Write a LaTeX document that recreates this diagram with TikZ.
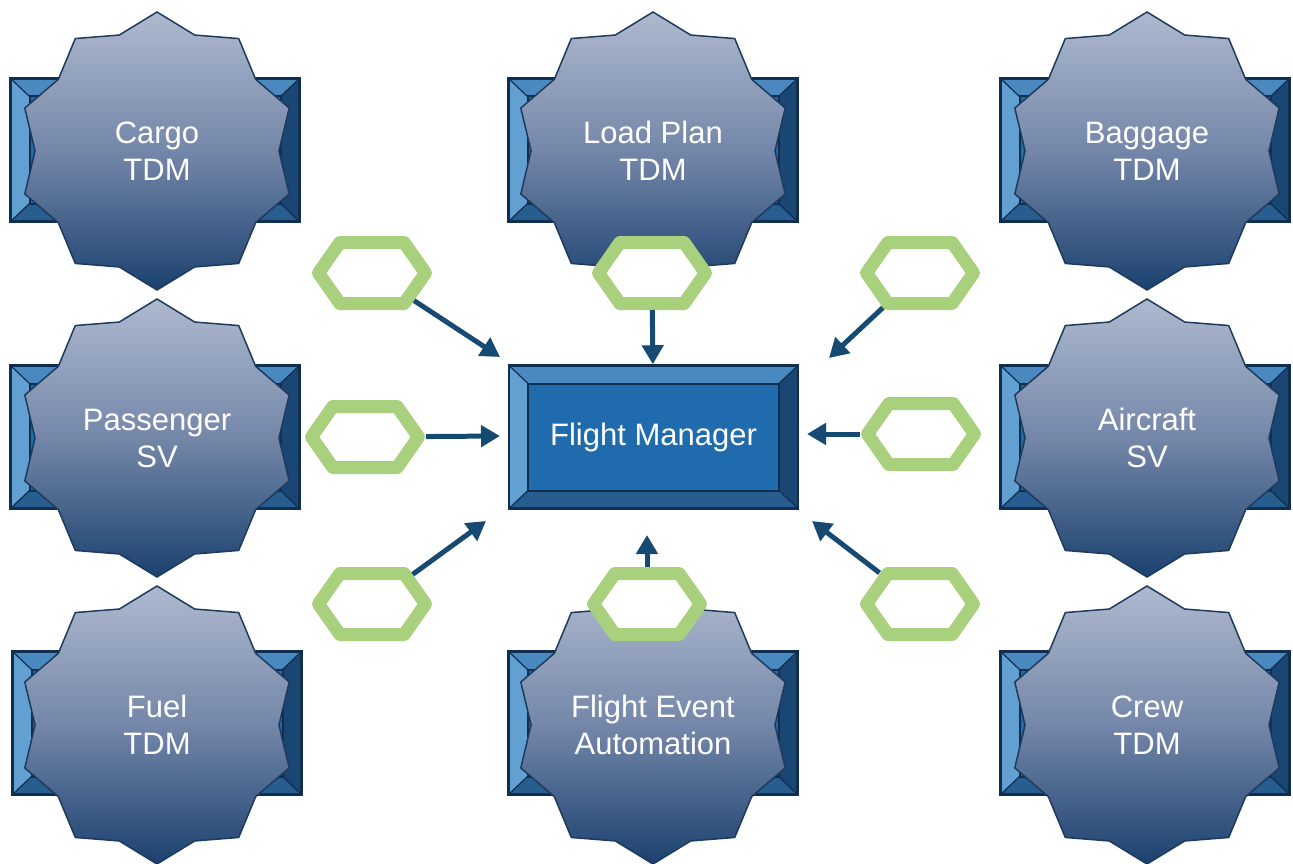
\documentclass[tikz,border=0pt]{standalone}
\usepackage{fontspec}
\setmainfont{Liberation Sans}
\usetikzlibrary{shapes.geometric}
\usetikzlibrary{shapes.symbols}
\usetikzlibrary{arrows.meta}

\definecolor{navy}{HTML}{0F2E50}
\definecolor{face}{HTML}{1F6BAE}
\definecolor{bevtop}{HTML}{4A89C0}
\definecolor{bevleft}{HTML}{62A0D2}
\definecolor{bevright}{HTML}{1A4673}
\definecolor{bevbottom}{HTML}{275D8F}
\definecolor{startop}{HTML}{AEB9CE}
\definecolor{starmid}{HTML}{7487A9}
\definecolor{starbottom}{HTML}{1B416E}
\definecolor{starline}{HTML}{1E3A5C}
\definecolor{portgreen}{HTML}{A9D07C}
\definecolor{flowblue}{HTML}{174A72}

\begin{document}
\begin{tikzpicture}[x=1pt,y=-1pt]
   \tikzset{BevelStyle/.style={draw=navy, line width=2.5pt, fill=face,
      minimum width=289pt, minimum height=143pt, inner sep=0pt, text=white,
      font=\fontsize{31}{37}\selectfont,
      path picture={
         \path (path picture bounding box.north west) coordinate (nw)
               (path picture bounding box.north east) coordinate (ne)
               (path picture bounding box.south west) coordinate (sw)
               (path picture bounding box.south east) coordinate (se);
         \path ([shift={(19pt,-18pt)}]nw) coordinate (inw)
               ([shift={(-19pt,-18pt)}]ne) coordinate (ine)
               ([shift={(19pt,18pt)}]sw) coordinate (isw)
               ([shift={(-19pt,18pt)}]se) coordinate (ise);
         \fill[bevtop] (nw) -- (ne) -- (ine) -- (inw) -- cycle;
         \fill[bevleft] (nw) -- (inw) -- (isw) -- (sw) -- cycle;
         \fill[bevright] (ne) -- (se) -- (ise) -- (ine) -- cycle;
         \fill[bevbottom] (sw) -- (isw) -- (ise) -- (se) -- cycle;
         \draw[navy, line width=2pt] (inw) rectangle (ise);
         \draw[navy, line width=1.2pt] (nw) -- (inw) (ne) -- (ine) (sw) -- (isw) (se) -- (ise);
      }}}
   \tikzset{StarStyle/.style={star, star points=10, star point ratio=1.14,
      minimum size=278pt, inner sep=0pt, draw=starline, line width=1.5pt,
      top color=startop, bottom color=starbottom, middle color=starmid,
      text=white, align=center, font=\fontsize{31}{37}\selectfont}}
   \tikzset{PortStyle/.style={signal, signal to=east and west, signal pointer angle=110,
      minimum width=107pt, minimum height=61pt, inner sep=0pt,
      draw=portgreen, line width=13pt, line join=round, fill=white}}
   \tikzset{FlowStyle/.style={draw=flowblue, line width=5pt, -{Triangle[length=19pt,width=21pt]}}}
   \useasboundingbox (0,0) rectangle (1293,864);
   \node[BevelStyle] (cargobox) at (155,150) {};
   \node[BevelStyle] (loadbox) at (653,150) {};
   \node[BevelStyle] (baggagebox) at (1145,150) {};
   \node[BevelStyle] (passengerbox) at (155,437) {};
   \node[BevelStyle] (aircraftbox) at (1145,437) {};
   \node[BevelStyle] (fuelbox) at (157,723) {};
   \node[BevelStyle] (eventbox) at (653,723) {};
   \node[BevelStyle] (crewbox) at (1145,723) {};
   \node[BevelStyle] (fm) at (653.5,437) {Flight Manager};
   \node[StarStyle] (cargo) at (157,151) {Cargo\\TDM};
   \node[StarStyle] (loadplan) at (653,151) {Load Plan\\TDM};
   \node[StarStyle] (baggage) at (1147,151) {Baggage\\TDM};
   \node[StarStyle] (passenger) at (157,438) {Passenger\\SV};
   \node[StarStyle] (aircraft) at (1147,438) {Aircraft\\SV};
   \node[StarStyle] (fuel) at (157,725) {Fuel\\TDM};
   \node[StarStyle] (event) at (653,725) {Flight Event\\Automation};
   \node[StarStyle] (crew) at (1147,725) {Crew\\TDM};
   \node[PortStyle] (portA) at (372,273) {};
   \node[PortStyle] (portB) at (652,273) {};
   \node[PortStyle] (portC) at (920,273) {};
   \node[PortStyle] (portD) at (365,437) {};
   \node[PortStyle] (portE) at (921,434) {};
   \node[PortStyle] (portF) at (372,604) {};
   \node[PortStyle] (portG) at (647,604) {};
   \node[PortStyle] (portH) at (920,604) {};
   \coordinate (tipA) at (500,357);
   \coordinate (tipC) at (829,358);
   \coordinate (tipD) at (500,436);
   \coordinate (tipE) at (807,434);
   \coordinate (tipF) at (486,521);
   \coordinate (tipG) at (647,535);
   \coordinate (tipH) at (812,521);
   \draw[FlowStyle] (portA) -- (tipA);
   \draw[FlowStyle] (portB) -- (fm);
   \draw[FlowStyle] (portC) -- (tipC);
   \draw[FlowStyle] (portD) -- (tipD);
   \draw[FlowStyle] (portE) -- (tipE);
   \draw[FlowStyle] (portF) -- (tipF);
   \draw[FlowStyle] (portG) -- (tipG);
   \draw[FlowStyle] (portH) -- (tipH);
\end{tikzpicture}
\end{document}
